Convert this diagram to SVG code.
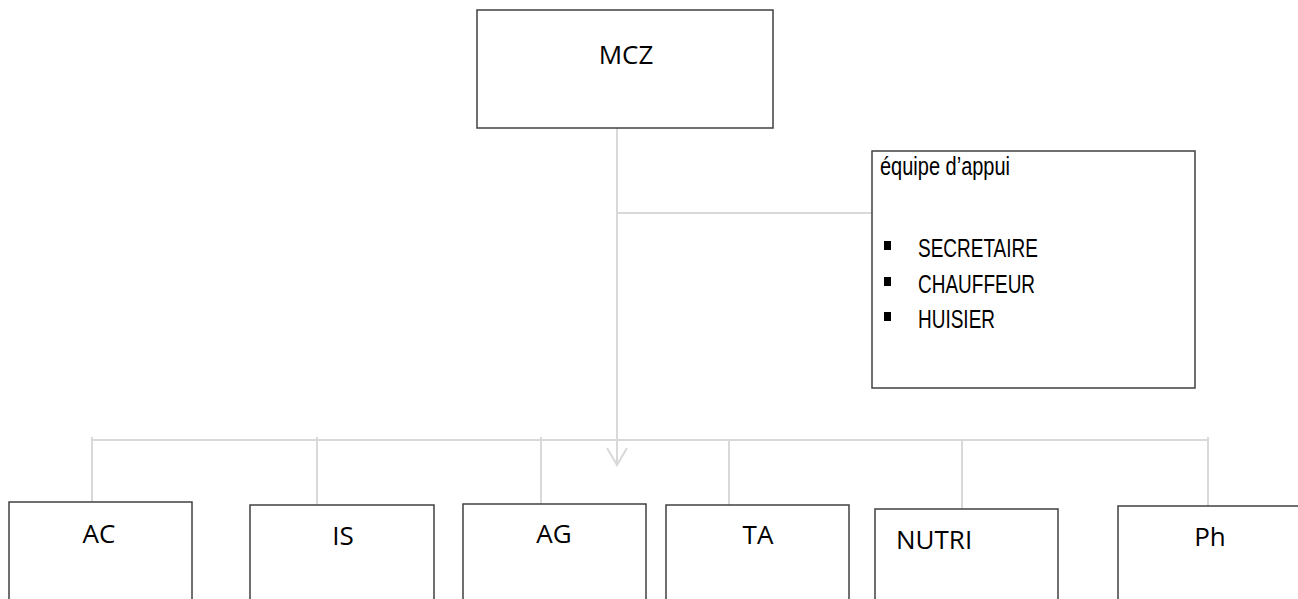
<svg xmlns="http://www.w3.org/2000/svg" width="1298" height="599" viewBox="0 0 1298 599">
<style>
.box{fill:#fff;stroke:#404040;stroke-width:1.5}
.lbl{font-family:"Open Sans",sans-serif;font-size:26px;fill:#000}
.sup{font-family:"Liberation Sans",Arial,sans-serif;font-size:25px;fill:#000}
.con{fill:none;stroke:#d9d9d9;stroke-width:2}
</style>
<defs>
<marker id="arr" markerWidth="24" markerHeight="20" refX="11" refY="18" orient="0" markerUnits="userSpaceOnUse">
<path d="M1,1 L11,18 L21,1" fill="none" stroke="#d9d9d9" stroke-width="2"/>
</marker>
</defs>
<g id="connectors">
<path class="con" d="M617,128 V465" marker-end="url(#arr)"/>
<path class="con" d="M617,213 H872"/>
<path class="con" d="M92,440 H1208"/>
<path class="con" d="M92,437 V502"/>
<path class="con" d="M317,437 V505"/>
<path class="con" d="M541,437 V504"/>
<path class="con" d="M729,440 V505"/>
<path class="con" d="M962,440 V509"/>
<path class="con" d="M1208,437 V506"/>
</g>
<g id="mcz">
<rect class="box" x="477" y="10" width="296" height="118"/>
<text class="lbl" x="626" y="64" text-anchor="middle" font-size="27">MCZ</text>
</g>
<g id="support">
<rect class="box" x="872" y="151" width="323" height="237"/>
<text class="sup" transform="translate(880,175) scale(0.8,1)">équipe d’appui</text>
<rect x="884" y="241" width="7" height="9" fill="#000"/>
<text class="sup" transform="translate(918,257) scale(0.76,1)">SECRETAIRE</text>
<rect x="884" y="277" width="7" height="9" fill="#000"/>
<text class="sup" transform="translate(918,293) scale(0.76,1)">CHAUFFEUR</text>
<rect x="884" y="312" width="7" height="9" fill="#000"/>
<text class="sup" transform="translate(918,328) scale(0.76,1)">HUISIER</text>
</g>
<g id="ac">
<rect class="box" x="9" y="502" width="183" height="110"/>
<text class="lbl" x="99" y="543" text-anchor="middle">AC</text>
</g>
<g id="is">
<rect class="box" x="250" y="505" width="184" height="110"/>
<text class="lbl" x="343" y="545" text-anchor="middle">IS</text>
</g>
<g id="ag">
<rect class="box" x="463" y="504" width="183" height="110"/>
<text class="lbl" x="554" y="543" text-anchor="middle">AG</text>
</g>
<g id="ta">
<rect class="box" x="666" y="505" width="183" height="110"/>
<text class="lbl" x="758" y="544" text-anchor="middle">TA</text>
</g>
<g id="nutri">
<rect class="box" x="875" y="509" width="183" height="110"/>
<text class="lbl" x="896" y="549">NUTRI</text>
</g>
<g id="ph">
<rect class="box" x="1118" y="506" width="190" height="110"/>
<text class="lbl" x="1210" y="546" text-anchor="middle">Ph</text>
</g>
</svg>
